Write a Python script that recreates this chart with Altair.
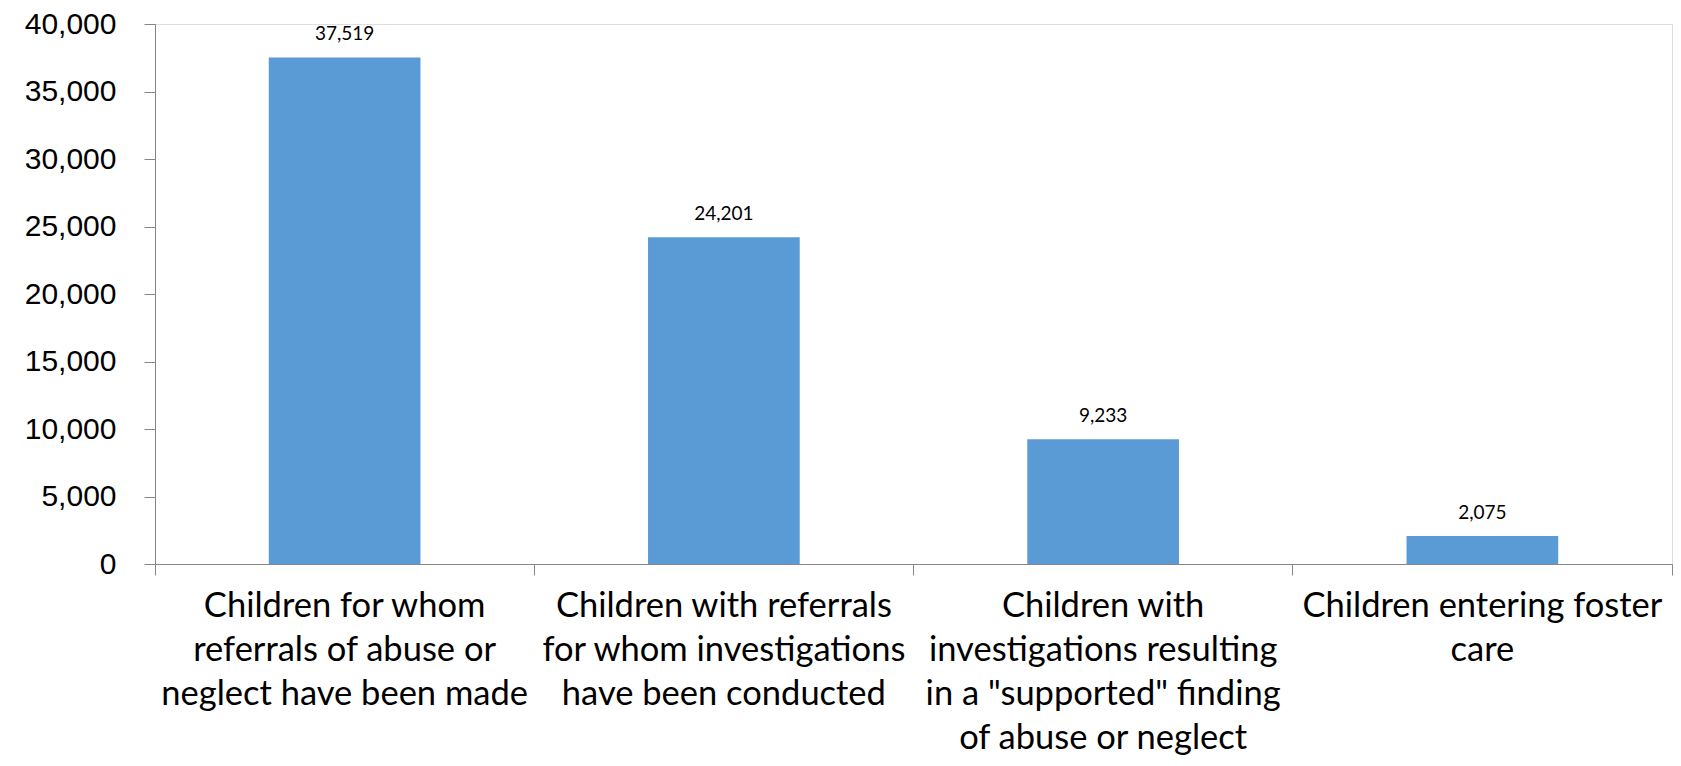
import altair as alt
import pandas as pd

categories = [
    "Children for whom|referrals of abuse or|neglect have been made",
    "Children with referrals|for whom investigations|have been conducted",
    "Children with|investigations resulting|in a \"supported\" finding|of abuse or neglect",
    "Children entering foster|care",
]
values = [37519, 24201, 9233, 2075]
y_ticks = [0, 5000, 10000, 15000, 20000, 25000, 30000, 35000, 40000]

df = pd.DataFrame({"category": categories, "value": values})

W, H = 1517, 540

xenc = alt.X(
    "category:N",
    sort=categories,
    scale=alt.Scale(paddingInner=0, paddingOuter=0),
    axis=alt.Axis(
        title=None,
        labelAngle=0,
        labelExpr="split(datum.label, '|')",
        labelFont="Lato",
        labelFontSize=34.5,
        labelColor="#000000",
        labelLineHeight=44,
        labelPadding=14,
        labelLimit=420,
        labelBaseline="top",
        domainColor="#868686",
        tickColor="#868686",
        tickSize=11,
        bandPosition=1,
        tickExtra=True,
    ),
)

yenc = alt.Y(
    "value:Q",
    scale=alt.Scale(domain=[0, 40000], nice=False),
    axis=alt.Axis(
        title=None,
        values=y_ticks,
        format=",d",
        labelFont="Liberation Sans",
        labelFontSize=30,
        labelColor="#000000",
        labelPadding=28,
        domainColor="#868686",
        tickColor="#868686",
        tickSize=11,
        grid=False,
    ),
)

bars = alt.Chart(df).mark_bar(
    color="#5B9BD5", width=alt.RelativeBandSize(0.4)
).encode(x=xenc, y=yenc)

labels = alt.Chart(df).mark_text(
    font="Lato", fontSize=19, color="#000000", baseline="bottom", dy=-13
).encode(
    x=alt.X("category:N", sort=categories),
    y=alt.Y("value:Q"),
    text=alt.Text("value:Q", format=",d"),
)

chart = (
    alt.layer(bars, labels)
    .properties(
        width=W,
        height=H,
        autosize=alt.AutoSizeParams(type="none"),
        padding={"left": 147, "top": 16, "right": 1, "bottom": 193},
    )
    .configure_view(stroke=None)
    .configure(background="white")
)

chart.save("out.html", embed_options={"renderer": "svg", "actions": False})
